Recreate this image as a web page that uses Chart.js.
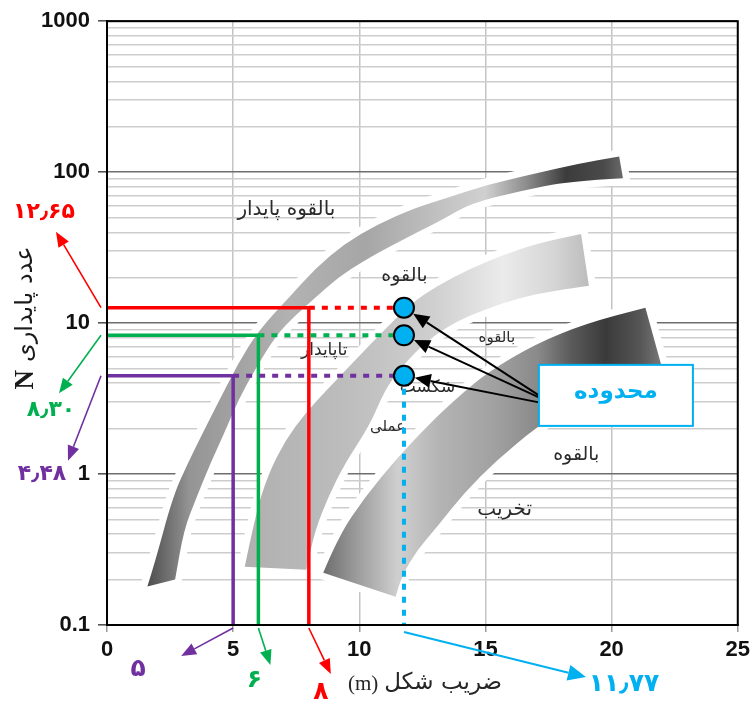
<!DOCTYPE html>
<html lang="fa">
<head>
<meta charset="utf-8">
<script src="https://cdn.jsdelivr.net/npm/chart.js@4.4.1/dist/chart.umd.min.js"></script>
<style>
  html, body { margin: 0; padding: 0; background: #fff; }
  canvas { display: block; }
</style>
</head>
<body>
<canvas id="c" width="755" height="704"></canvas>
<script>
// ---- data -------------------------------------------------------------
// shape factor m and stability number N of the three design cases
const caseShapeFactor = [5, 6, 8];
const caseStability = [4.48, 8.30, 12.65];
// shape factor at the limit line, where the three cases are projected
const limitShapeFactor = 11.77;

// axis ticks
const xTickValues = [0, 5, 10, 15, 20, 25];
const yTickLabels = [0.1, 1, 10, 100, 1000];
const gridMantissas = [1, 2, 3, 4, 5, 6, 7, 8, 9];

// outlines of the three stability bands, as [m, N] pairs
// (upper edge from the low end up, then lower edge back down)
const band1Upper = [[1.6, 0.18], [1.9, 0.26], [2.6, 0.70], [3.2, 1.18], [3.85, 1.95], [4.5, 3.2], [5.2, 5.4],
  [6.0, 8.9], [7.2, 14.7], [8.25, 23], [9.4, 33.5], [10.7, 45], [12.2, 58], [13.4, 67], [15.1, 83],
  [17.0, 98], [18.6, 113], [20.3, 127]];
const band1Lower = [[20.45, 91], [18.3, 87], [16.35, 75], [14.4, 62], [13.35, 49], [12.4, 40.8], [11.1, 31.5],
  [10.2, 26], [9.15, 20], [8.25, 14.7], [7.45, 11.2], [6.7, 8.3], [5.85, 4.86], [5.2, 3.08], [4.7, 1.95],
  [4.1, 1.18], [3.55, 0.70], [3.05, 0.43], [2.7, 0.20]];
const band2Upper = [[5.46, 0.243], [5.9, 0.553], [6.41, 1.02], [7.08, 1.68], [7.86, 2.53], [8.77, 3.7],
  [9.75, 5.48], [10.85, 8.53], [12.03, 13.4], [13.09, 17.7], [14.39, 22.9], [15.72, 28.3], [17.02, 33.5],
  [18.79, 39]];
const band2Lower = [[19.1, 17.7], [17.69, 16.4], [16.35, 14.7], [15.06, 12.5], [13.76, 10.1], [12.7, 7.67],
  [11.71, 5.24], [11.0, 3.58], [10.42, 2.11], [9.43, 1.18], [8.77, 0.705], [8.25, 0.427], [7.9, 0.232]];
const band3Upper = [[8.57, 0.222], [9.16, 0.384], [10.22, 0.705], [11.52, 1.29], [12.81, 2.17], [13.76, 3.08],
  [15.06, 4.71], [17.02, 7.32], [18.99, 9.93], [21.34, 12.65]];
const band3Lower = [[22.05, 4.71], [20.17, 3.87], [18.4, 2.85], [17.02, 2.04], [15.45, 1.24], [14.15, 0.75],
  [13.09, 0.447], [12.3, 0.315], [11.71, 0.216], [11.44, 0.154]];

// region names written over the chart, anchored at [m, N]
const regionNames = ['بالقوه پایدار', 'بالقوه', 'بالقوه', 'تاپایدار', 'شکست', 'عملی', 'بالقوه', 'تخریب'];
const regionAnchors = [[7.11, 56], [11.79, 20.6], [15.45, 7.9], [8.61, 6.58], [12.7, 3.75], [11.12, 2.04], [18.6, 1.33], [15.76, 0.578]];

const calloutText = 'محدوده';
const xTitle = 'ضریب شکل';
const xUnit = '(m)';
const yTitle = 'عدد پایداری';
const yUnit = 'N';

// ---- styles -----------------------------------------------------------
const caseColors = ['#7030a0', '#00b050', '#ff0000'];
const limitColor = '#00b0f0';
const regionSizes = [20, 19, 15, 17, 17, 15, 19, 20];
const arabicFamily = '"DejaVu Sans", sans-serif';
const latinFamily = '"Liberation Sans", Arial, sans-serif';
const serifFamily = '"Liberation Serif", "Times New Roman", serif';

const bandStyles = [
  { stops: [[0, '#4e4e4e'], [0.09, '#959595'], [0.3, '#b2b2b2'], [0.46, '#a6a6a6'], [0.64, '#c6c6c6'],
            [0.71, '#d0d0d0'], [0.8, '#8a8a8a'], [0.88, '#3c3c3c'], [0.96, '#4a4a4a'], [1, '#6a6a6a']] },
  { stops: [[0, '#b0b0b0'], [0.3, '#bdbdbd'], [0.55, '#cfcfcf'], [0.75, '#ebebeb'], [0.9, '#d5d5d5'], [1, '#bcbcbc']] },
  { stops: [[0, '#6e6e6e'], [0.1, '#9c9c9c'], [0.22, '#cfcfcf'], [0.34, '#b4b4b4'], [0.51, '#a0a0a0'],
            [0.63, '#8a8a8a'], [0.73, '#5a5a5a'], [0.83, '#3a3a3a'], [0.93, '#555555'], [1, '#7a7a7a']] }
];
const bands = [
  { upper: band1Upper, lower: band1Lower },
  { upper: band2Upper, lower: band2Lower },
  { upper: band3Upper, lower: band3Lower }
];

// ---- helpers ----------------------------------------------------------
const faDigits = '۰۱۲۳۴۵۶۷۸۹';
function toPersian(v, decimals) {
  return v.toFixed(decimals).replace(/\d/g, d => faDigits[d]).replace('.', '٫');
}
const isDecade = v => Math.abs(Math.log10(v) - Math.round(Math.log10(v))) < 1e-9;
const yGridValues = [];
for (let e = -1; e < 3; e++) gridMantissas.forEach(k => yGridValues.push(+(k * Math.pow(10, e)).toPrecision(6)));
yGridValues.push(1000);

function arrow(ctx, x1, y1, x2, y2, color, width, headLen, headHalf) {
  const ang = Math.atan2(y2 - y1, x2 - x1);
  const bx = x2 - headLen * Math.cos(ang), by = y2 - headLen * Math.sin(ang);
  ctx.save();
  ctx.strokeStyle = color; ctx.fillStyle = color; ctx.lineWidth = width;
  ctx.beginPath(); ctx.moveTo(x1, y1); ctx.lineTo(bx, by); ctx.stroke();
  ctx.beginPath();
  ctx.moveTo(x2, y2);
  ctx.lineTo(bx + headHalf * Math.sin(ang), by - headHalf * Math.cos(ang));
  ctx.lineTo(bx - headHalf * Math.sin(ang), by + headHalf * Math.cos(ang));
  ctx.closePath(); ctx.fill();
  ctx.restore();
}

// smooth edge through points (quadratic segments between midpoints)
function smoothEdge(ctx, pts, first) {
  if (first) ctx.moveTo(pts[0][0], pts[0][1]); else ctx.lineTo(pts[0][0], pts[0][1]);
  for (let i = 1; i < pts.length - 1; i++) {
    const mx = (pts[i][0] + pts[i + 1][0]) / 2, my = (pts[i][1] + pts[i + 1][1]) / 2;
    ctx.quadraticCurveTo(pts[i][0], pts[i][1], mx, my);
  }
  const last = pts[pts.length - 1];
  ctx.lineTo(last[0], last[1]);
}

// ---- plugins ----------------------------------------------------------
const bandPlugin = {
  id: 'bands',
  beforeDatasetsDraw(chart) {
    const { ctx, chartArea: a, scales: { x, y } } = chart;
    ctx.save();
    ctx.beginPath(); ctx.rect(a.left, a.top, a.width, a.height); ctx.clip();
    const toPx = list => list.map(([m, n]) => [x.getPixelForValue(m), y.getPixelForValue(n)]);
    const outlines = bands.map(b => ({ up: toPx(b.upper), low: toPx(b.lower) }));
    const trace = o => { ctx.beginPath(); smoothEdge(ctx, o.up, true); smoothEdge(ctx, o.low, false); ctx.closePath(); };
    // white clearing around each band
    outlines.forEach(o => {
      trace(o);
      ctx.lineJoin = 'round'; ctx.lineWidth = 14; ctx.strokeStyle = '#fff'; ctx.stroke();
      ctx.fillStyle = '#fff'; ctx.fill();
    });
    outlines.forEach((o, i) => {
      const xs = o.up.concat(o.low).map(p => p[0]);
      const g = ctx.createLinearGradient(Math.min(...xs), 0, Math.max(...xs), 0);
      bandStyles[i].stops.forEach(([f, c]) => g.addColorStop(f, c));
      trace(o);
      ctx.fillStyle = g; ctx.fill();
    });
    // region names
    ctx.fillStyle = '#2b2b2b';
    ctx.textAlign = 'center'; ctx.textBaseline = 'middle'; ctx.direction = 'rtl';
    regionNames.forEach((t, i) => {
      ctx.font = regionSizes[i] + 'px ' + arabicFamily;
      ctx.fillText(t, x.getPixelForValue(regionAnchors[i][0]), y.getPixelForValue(regionAnchors[i][1]));
    });
    ctx.restore();
  },
  afterDatasetsDraw(chart) {
    const { ctx, scales: { x, y } } = chart;
    // callout box and its pointers to the projected points
    const bx = x.getPixelForValue(20.17), by = y.getPixelForValue(3.32);
    const bw = 154, bh = 61;
    const tailDy = [0, 2, 7];
    caseStability.slice().reverse().forEach((n, i) => {
      const cx = x.getPixelForValue(limitShapeFactor), cy = y.getPixelForValue(n);
      const tx = bx - bw / 2, ty = by + tailDy[i];
      const ang = Math.atan2(cy - ty, cx - tx);
      arrow(ctx, tx, ty, cx - 11 * Math.cos(ang), cy - 11 * Math.sin(ang), '#000', 2, 16, 7);
    });
    ctx.save();
    ctx.fillStyle = '#fff'; ctx.fillRect(bx - bw / 2, by - bh / 2, bw, bh);
    ctx.strokeStyle = limitColor; ctx.lineWidth = 2; ctx.strokeRect(bx - bw / 2, by - bh / 2, bw, bh);
    ctx.fillStyle = limitColor; ctx.font = 'bold 23px ' + arabicFamily;
    ctx.textAlign = 'center'; ctx.textBaseline = 'middle'; ctx.direction = 'rtl';
    ctx.fillText(calloutText, bx, by - 3);
    ctx.restore();
  },
  afterDraw(chart) {
    const { ctx, chartArea: a, scales: { x, y } } = chart;
    ctx.save();
    ctx.strokeStyle = '#000'; ctx.lineWidth = 2;
    ctx.strokeRect(a.left, a.top, a.width, a.height);

    // value callouts for the three cases
    const leftArrow = [[-33, 85, -26, 14], [-42, 58, -8, 17], [-45, -76, -12, -19]];
    const bottomArrow = [[-52, 28, -43, 13], [12, 37, -16, 15], [22, 46, -10, 18]];
    ctx.textAlign = 'center'; ctx.textBaseline = 'middle';
    caseStability.forEach((n, i) => {
      const c = caseColors[i];
      const tx = a.left - 6, ty = y.getPixelForValue(n);
      const [dx, dy, lx, ly] = leftArrow[i];
      arrow(ctx, tx, ty, tx + dx, ty + dy, c, 1.6, 15, 6);
      ctx.fillStyle = c; ctx.font = 'bold 22px ' + arabicFamily;
      ctx.fillText(toPersian(n, 2), tx + dx + lx, ty + dy + ly);
    });
    caseShapeFactor.forEach((m, i) => {
      const c = caseColors[i];
      const tx = x.getPixelForValue(m), ty = a.bottom + 3;
      const [dx, dy, lx, ly] = bottomArrow[i];
      arrow(ctx, tx, ty, tx + dx, ty + dy, c, 1.6, 15, 6);
      ctx.fillStyle = c; ctx.font = 'bold 25px ' + arabicFamily;
      ctx.fillText(toPersian(m, 0), tx + dx + lx, ty + dy + ly);
    });
    {
      const tx = x.getPixelForValue(limitShapeFactor), ty = a.bottom + 7;
      arrow(ctx, tx, ty, tx + 182, ty + 45, limitColor, 2, 18, 8);
      ctx.fillStyle = limitColor; ctx.font = 'bold 25px ' + arabicFamily;
      ctx.fillText(toPersian(limitShapeFactor, 2), tx + 220, ty + 52);
    }

    // x axis title: Persian words with the unit on their left
    ctx.fillStyle = '#262626';
    ctx.textBaseline = 'middle'; ctx.textAlign = 'left';
    ctx.font = '23px ' + arabicFamily; ctx.direction = 'rtl';
    const wA = ctx.measureText(xTitle).width;
    ctx.font = '21px ' + serifFamily; ctx.direction = 'ltr';
    const wU = ctx.measureText(xUnit).width;
    const gap = 6, cx = 425, cy = 684;
    let sx = cx - (wA + gap + wU) / 2;
    ctx.fillText(xUnit, sx, cy);
    ctx.font = '23px ' + arabicFamily; ctx.direction = 'rtl';
    ctx.fillText(xTitle, sx + wU + gap, cy - 1);

    // y axis title, read bottom to top
    ctx.translate(26, 318); ctx.rotate(-Math.PI / 2);
    ctx.fillStyle = '#1a1a1a';
    ctx.font = 'bold 27px ' + serifFamily; ctx.direction = 'ltr';
    const wN = ctx.measureText(yUnit).width;
    ctx.font = '24px ' + arabicFamily;
    const wY = ctx.measureText(yTitle).width;
    sx = -(wN + 8 + wY) / 2;
    ctx.font = 'bold 27px ' + serifFamily;
    ctx.fillText(yUnit, sx, 0);
    ctx.font = '24px ' + arabicFamily; ctx.direction = 'rtl';
    ctx.fillText(yTitle, sx + wN + 8, 0);
    ctx.restore();
  }
};

// ---- datasets ---------------------------------------------------------
const xMin = xTickValues[0], yMin = yTickLabels[0];
const datasets = [{
  label: 'projected points',
  data: caseStability.map(n => ({ x: limitShapeFactor, y: n })),
  pointRadius: 10, pointBackgroundColor: limitColor, pointBorderColor: '#000', pointBorderWidth: 2,
  showLine: false
}, {
  label: 'limit',
  data: [{ x: limitShapeFactor, y: Math.min(...caseStability) }, { x: limitShapeFactor, y: yMin }],
  showLine: true, borderColor: limitColor, borderWidth: 4, borderDash: [6, 7], pointRadius: 0
}];
caseStability.forEach((n, i) => {
  const m = caseShapeFactor[i];
  datasets.push({
    label: 'case ' + m,
    data: [{ x: xMin, y: n }, { x: m, y: n }, { x: m, y: yMin }],
    showLine: true, borderColor: caseColors[i], borderWidth: 3.5, pointRadius: 0, borderJoinStyle: 'miter'
  });
  datasets.push({
    label: 'case ' + m + ' to limit',
    data: [{ x: m, y: n }, { x: limitShapeFactor, y: n }],
    showLine: true, borderColor: caseColors[i], borderWidth: 4, borderDash: [6, 7], pointRadius: 0
  });
});

const tickFont = { family: latinFamily, size: 22, weight: 'bold' };

new Chart(document.getElementById('c'), {
  type: 'scatter',
  data: { datasets },
  options: {
    responsive: false,
    animation: false,
    devicePixelRatio: 1,
    events: [],
    layout: { padding: { left: 0, right: 12, top: 19, bottom: 0 } },
    plugins: { legend: { display: false }, tooltip: { enabled: false } },
    scales: {
      x: {
        type: 'linear', min: xTickValues[0], max: xTickValues[xTickValues.length - 1],
        afterBuildTicks: s => { s.ticks = xTickValues.map(v => ({ value: v })); },
        afterFit: s => { s.height = 79; },
        grid: { color: '#c4c4c4', lineWidth: 1.5, tickLength: 7, tickColor: '#999' },
        border: { color: '#000', width: 2 },
        ticks: { font: tickFont, color: '#111', padding: 5, maxRotation: 0, autoSkip: false, callback: v => String(v) }
      },
      y: {
        type: 'logarithmic', min: yTickLabels[0], max: yTickLabels[yTickLabels.length - 1],
        afterBuildTicks: s => { s.ticks = yGridValues.map(v => ({ value: v, major: false })); },
        afterFit: s => { s.width = 107; },
        grid: {
          color: c => isDecade(c.tick.value) ? '#6e6e6e' : '#cdcdcd',
          lineWidth: c => isDecade(c.tick.value) ? 1.6 : 1.4,
          tickLength: 9,
          tickColor: c => isDecade(c.tick.value) ? '#555' : 'rgba(0,0,0,0)'
        },
        border: { color: '#000', width: 2 },
        ticks: {
          font: tickFont, color: '#111', padding: 8, autoSkip: false,
          callback: v => yTickLabels.some(t => Math.abs(t - v) < 1e-9) ? String(v) : ''
        }
      }
    }
  },
  plugins: [bandPlugin]
});
</script>
</body>
</html>
